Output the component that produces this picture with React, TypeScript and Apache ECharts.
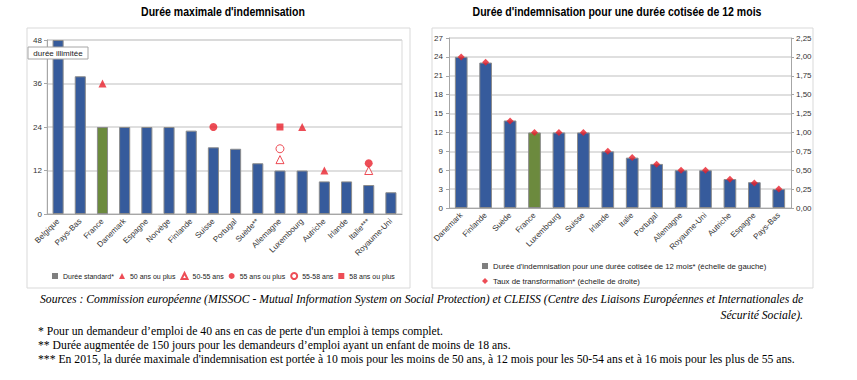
import React, { useEffect, useRef } from "react";
import * as echarts from "echarts";

// ---------- Left chart data ----------
const leftCategories = [
  "Belgique", "Pays-Bas", "France", "Danemark", "Espagne", "Norvège", "Finlande", "Suisse",
  "Portugal", "Suède**", "Allemagne", "Luxembourg", "Autriche", "Irlande", "Italie***", "Royaume-Uni",
];
const leftStandard = [48, 38, 24, 24, 24, 24, 23, 18.4, 18, 14, 12, 12, 9, 9, 8, 6];
const left50plus: (number | null)[] = [null, null, 36, null, null, null, null, null, null, null, null, 24, 12, null, null, null];
const left5055: (number | null)[] = [null, null, null, null, null, null, null, null, null, null, 15, null, null, null, 12, null];
const left55plus: (number | null)[] = [null, null, null, null, null, null, null, 24, null, null, null, null, null, null, 14, null];
const left5558: (number | null)[] = [null, null, null, null, null, null, null, null, null, null, 18, null, null, null, null, null];
const left58plus: (number | null)[] = [null, null, null, null, null, null, null, null, null, null, 24, null, null, null, null, null];

// ---------- Right chart data ----------
const rightCategories = [
  "Danemark", "Finlande", "Suède", "France", "Luxembourg", "Suisse", "Irlande", "Italie",
  "Portugal", "Allemagne", "Royaume-Uni", "Autriche", "Espagne", "Pays-Bas",
];
const rightDuree = [24, 23.1, 13.9, 12, 12, 12, 9, 8, 7, 6, 6, 4.6, 4.1, 3];
const rightTaux = [2.0, 1.93, 1.15, 1.0, 1.0, 1.0, 0.75, 0.67, 0.58, 0.5, 0.5, 0.38, 0.33, 0.25];

const BLUE = "#365b9c";
const GREEN = "#6c8a3e";
const RED = "#e8212c";
const SANS = '"Liberation Sans", Arial, sans-serif';
const SERIF = '"Liberation Serif", "DejaVu Serif", serif';

const toPairs = (arr: (number | null)[]) =>
  arr.map((v, i) => (v == null ? null : [i, v])).filter((d) => d !== null);

const axisLabelStyle = { fontSize: 8, color: "#333", fontFamily: SANS };

const leftLegendNames = ["Durée standard*", "50 ans ou plus", "50-55 ans", "55 ans ou plus", "55-58 ans", "58 ans ou plus"];
const leftLegendIcons = ["rect", "triangle", "triangle", "circle", "circle", "rect"];

export default function App() {
  const ref = useRef<HTMLDivElement>(null);

  useEffect(() => {
    if (!ref.current) return;
    const chart = echarts.init(ref.current, null, { renderer: "svg" });

    const legendText = { fontSize: 7.5, color: "#222", fontFamily: SANS };
    const scatterBase = (name: string, data: any, symbol: string, open: boolean) => ({
      name,
      type: "scatter",
      xAxisIndex: 0,
      yAxisIndex: 0,
      symbol,
      symbolSize: symbol === "rect" ? 7 : 8,
      data: toPairs(data),
      itemStyle: open
        ? { color: "#fff", borderColor: RED, borderWidth: 1 }
        : { color: RED },
      z: 5,
    });

    chart.setOption({
      animation: false,
      backgroundColor: "#fff",
      textStyle: { fontFamily: SANS },
      grid: [
        { left: 47, top: 40, width: 355, height: 174, show: true, borderColor: "#d9d9d9", borderWidth: 1, backgroundColor: "transparent" },
        { left: 449, top: 38, width: 342, height: 170 },
      ],
      xAxis: [
        {
          type: "category",
          gridIndex: 0,
          data: leftCategories,
          axisLine: { lineStyle: { color: "#a6a6a6" } },
          axisTick: { show: false },
          axisLabel: { ...axisLabelStyle, rotate: 45, margin: 6, interval: 0 },
        },
        {
          type: "category",
          gridIndex: 1,
          data: rightCategories,
          axisLine: { lineStyle: { color: "#a6a6a6" } },
          axisTick: { show: false },
          axisLabel: { ...axisLabelStyle, rotate: 45, margin: 6, interval: 0 },
        },
      ],
      yAxis: [
        {
          type: "value",
          gridIndex: 0,
          min: 0,
          max: 48,
          interval: 12,
          axisLine: { show: true, lineStyle: { color: "#a6a6a6" } },
          axisTick: { show: true, length: 3, lineStyle: { color: "#a6a6a6" } },
          axisLabel: { ...axisLabelStyle, margin: 5 },
          splitLine: { lineStyle: { color: "#d4d4d4", width: 1.5 } },
        },
        {
          type: "value",
          gridIndex: 1,
          min: 0,
          max: 27,
          interval: 3,
          axisLine: { show: true, lineStyle: { color: "#a6a6a6" } },
          axisTick: { show: true, length: 3, lineStyle: { color: "#a6a6a6" } },
          axisLabel: { ...axisLabelStyle, margin: 6 },
          splitLine: { lineStyle: { color: "#d4d4d4", width: 1.5 } },
        },
        {
          type: "value",
          gridIndex: 1,
          position: "right",
          min: 0,
          max: 2.25,
          interval: 0.25,
          axisLine: { show: true, lineStyle: { color: "#a6a6a6" } },
          axisTick: { show: true, length: 3, lineStyle: { color: "#a6a6a6" } },
          axisLabel: {
            ...axisLabelStyle,
            margin: 5,
            formatter: (v: number) => v.toFixed(2).replace(".", ","),
          },
          splitLine: { show: false },
        },
      ],
      legend: [
        {
          left: 52,
          top: 272,
          padding: 0,
          itemWidth: 6,
          itemHeight: 6,
          itemGap: 5,
          textStyle: { ...legendText, fontSize: 7 },
          data: leftLegendNames.map((name, i) =>
            i === 0
              ? { name, icon: leftLegendIcons[i], itemStyle: { color: "#7f7f7f", borderWidth: 0 } }
              : { name, icon: leftLegendIcons[i] }
          ),
        },
        {
          left: 482,
          top: 262,
          padding: 0,
          itemWidth: 6,
          itemHeight: 6,
          textStyle: { ...legendText, fontSize: 7.8 },
          data: [{ name: "Durée d'indemnisation pour une durée cotisée de 12 mois* (échelle de gauche)", icon: "rect", itemStyle: { color: "#7f7f7f", borderWidth: 0 } }],
        },
        {
          left: 482,
          top: 277,
          padding: 0,
          itemWidth: 6,
          itemHeight: 6,
          textStyle: { ...legendText, fontSize: 7.8 },
          data: [{ name: "Taux de transformation* (échelle de droite)", icon: "diamond" }],
        },
      ],
      series: [
        {
          name: "Durée standard*",
          type: "bar",
          xAxisIndex: 0,
          yAxisIndex: 0,
          barWidth: "50%",
          data: leftStandard.map((v, i) =>
            leftCategories[i] === "France" ? { value: v, itemStyle: { color: GREEN } } : v
          ),
          itemStyle: { color: BLUE, borderColor: "#8c8c8c", borderWidth: 1 },
        },
        scatterBase("50 ans ou plus", left50plus, "triangle", false),
        scatterBase("50-55 ans", left5055, "triangle", true),
        scatterBase("55 ans ou plus", left55plus, "circle", false),
        scatterBase("55-58 ans", left5558, "circle", true),
        scatterBase("58 ans ou plus", left58plus, "rect", false),
        {
          name: "Durée d'indemnisation pour une durée cotisée de 12 mois* (échelle de gauche)",
          type: "bar",
          xAxisIndex: 1,
          yAxisIndex: 1,
          barWidth: "52%",
          data: rightDuree.map((v, i) =>
            rightCategories[i] === "France" ? { value: v, itemStyle: { color: GREEN } } : v
          ),
          itemStyle: { color: BLUE, borderColor: "#8c8c8c", borderWidth: 1 },
        },
        {
          name: "Taux de transformation* (échelle de droite)",
          type: "scatter",
          xAxisIndex: 1,
          yAxisIndex: 2,
          symbol: "diamond",
          symbolSize: 7,
          data: rightTaux,
          itemStyle: { color: RED },
          z: 5,
        },
      ],
      graphic: [
        { type: "rect", shape: { x: 27, y: 28, width: 383, height: 260 }, style: { fill: "none", stroke: "#d9d9d9", lineWidth: 1 }, silent: true, z: -1 },
        { type: "rect", shape: { x: 432, y: 28, width: 381, height: 260 }, style: { fill: "none", stroke: "#d9d9d9", lineWidth: 1 }, silent: true, z: -1 },
        { type: "rect", shape: { x: 28, y: 47, width: 60, height: 12 }, style: { fill: "#fff", stroke: "#a6a6a6", lineWidth: 1 }, z: 10 },
        { type: "text", x: 58, y: 53, style: { text: "durée illimitée", textAlign: "center", textVerticalAlign: "middle", font: `8px ${SANS}`, fill: "#222" }, z: 11 },
        { type: "text", x: 223, y: 12, scaleX: 0.81, style: { text: "Durée maximale d'indemnisation", textAlign: "center", textVerticalAlign: "middle", font: `bold 13px ${SANS}`, fill: "#000" } },
        { type: "text", x: 617, y: 12, scaleX: 0.81, style: { text: "Durée d'indemnisation pour une durée cotisée de 12 mois", textAlign: "center", textVerticalAlign: "middle", font: `bold 13px ${SANS}`, fill: "#000" } },
        { type: "text", x: 40, y: 299, style: { text: "Sources : Commission européenne (MISSOC - Mutual Information System on Social Protection) et CLEISS (Centre des Liaisons Européennes et Internationales de", textVerticalAlign: "middle", font: `italic 11.7px ${SERIF}`, fill: "#000" } },
        { type: "text", x: 803, y: 315, style: { text: "Sécurité Sociale).", textAlign: "right", textVerticalAlign: "middle", font: `italic 11.7px ${SERIF}`, fill: "#000" } },
        { type: "text", x: 38, y: 331, style: { text: "* Pour un demandeur d’emploi de 40 ans en cas de perte d'un emploi à temps complet.", textVerticalAlign: "middle", font: `11.7px ${SERIF}`, fill: "#000" } },
        { type: "text", x: 38, y: 345, style: { text: "** Durée augmentée de 150 jours pour les demandeurs d’emploi ayant un enfant de moins de 18 ans.", textVerticalAlign: "middle", font: `11.7px ${SERIF}`, fill: "#000" } },
        { type: "text", x: 38, y: 359, style: { text: "*** En 2015, la durée maximale d'indemnisation est portée à 10 mois pour les moins de 50 ans, à 12 mois pour les 50-54 ans et à 16 mois pour les plus de 55 ans.", textVerticalAlign: "middle", font: `11.7px ${SERIF}`, fill: "#000" } },
      ],
    });

    return () => chart.dispose();
  }, []);

  return (
    <div
      ref={ref}
      style={{ position: "absolute", left: 0, top: 0, width: 857, height: 380, background: "#fff" }}
    />
  );
}
